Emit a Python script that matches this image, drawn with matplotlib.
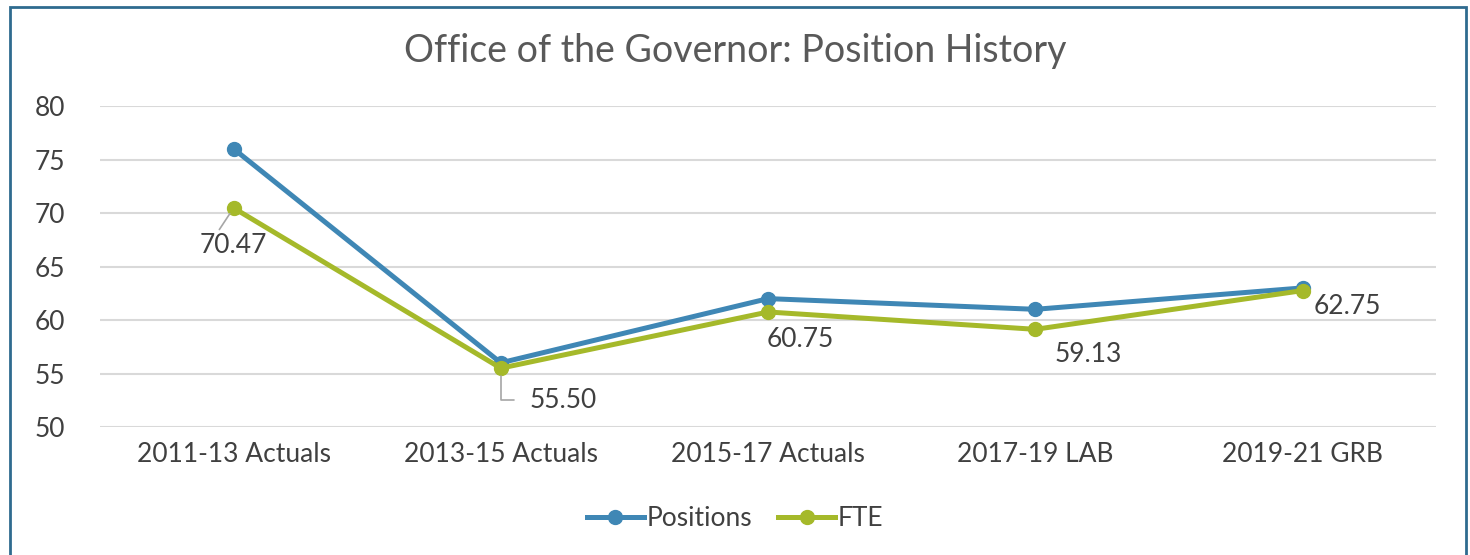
import matplotlib.pyplot as plt
from matplotlib.patches import Rectangle

categories = ["2011-13 Actuals", "2013-15 Actuals", "2015-17 Actuals", "2017-19 LAB", "2019-21 GRB"]
positions = [76, 56, 62, 61, 63]
fte = [70.47, 55.50, 60.75, 59.13, 62.75]
yticks = [50, 55, 60, 65, 70, 75, 80]

blue = "#3F87B5"
green = "#A5B92A"
txt = "#404040"

plt.rcParams['font.family'] = ['Lato', 'DejaVu Sans']

fig = plt.figure(figsize=(14.7, 5.55), dpi=100)
ax = fig.add_axes([0.068, 0.2306, 0.909, 0.5784])

x = list(range(len(categories)))
ax.plot(x, positions, color=blue, lw=3.6, marker="o", ms=10, label="Positions", zorder=3)
ax.plot(x, fte, color=green, lw=3.6, marker="o", ms=10, label="FTE", zorder=4)

ax.set_xlim(-0.5, len(categories) - 0.5)
ax.set_ylim(50, 80)
ax.set_yticks(yticks)
ax.set_xticks(x)
ax.set_xticklabels(categories)
ax.tick_params(length=0, labelsize=19, colors=txt, pad=11)
ax.tick_params(axis="y", pad=25)
ax.grid(axis="y", color="#D9D9D9", lw=1.5)
ax.set_axisbelow(True)
for s in ax.spines.values():
    s.set_visible(False)

# data labels (offsets in pixels)
offsets = [(0, -38), (62, -32), (32, -28), (53, -25), (45, -16)]
for i, v in enumerate(fte):
    dx, dy = offsets[i]
    kw = {}
    if i == 0:
        kw = dict(arrowprops=dict(arrowstyle="-", color="#A6A6A6", lw=1.2, shrinkA=1, shrinkB=5,
                                  relpos=(0.25, 1)))
    elif i == 1:
        kw = dict(arrowprops=dict(arrowstyle="-", color="#A6A6A6", lw=1.2, shrinkA=9, shrinkB=6,
                                  connectionstyle="angle,angleA=0,angleB=90,rad=0",
                                  relpos=(0, 0.5)))
    ax.annotate(f"{v:.2f}", (i, v), xytext=(dx, dy), textcoords="offset pixels",
                ha="center", va="center", fontsize=19, color=txt, zorder=5, **kw)

fig.text(0.5, 0.908, "Office of the Governor: Position History", ha="center", va="center",
         fontsize=27, color="#595959")

fig.legend(loc="center", bbox_to_anchor=(0.5, 0.065), ncol=2, frameon=False, fontsize=19,
           handlelength=2.15, handletextpad=0.1, columnspacing=1.0, labelcolor=txt)

fig.patches.append(Rectangle((0.0068, -0.05), 0.9905, 1.037, transform=fig.transFigure,
                             fill=False, edgecolor="#2F6B8F", lw=2))

fig.savefig("out.png", dpi=100)
